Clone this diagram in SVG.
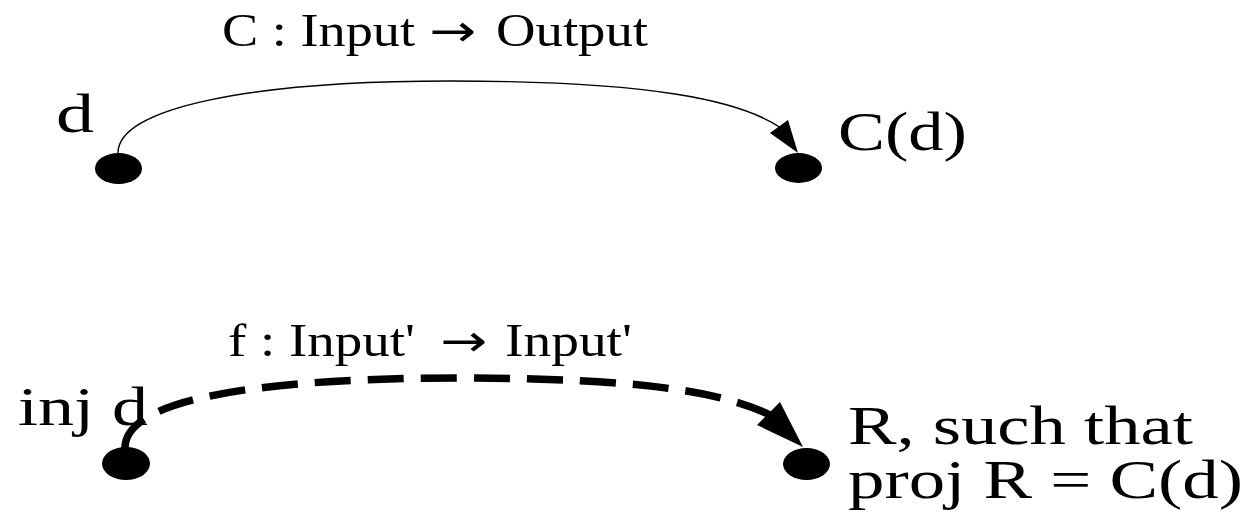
<svg xmlns="http://www.w3.org/2000/svg" width="1257" height="523" viewBox="0 0 1257 523">
  <style>
    .dot { fill: #000; }
    .lbl { font-family: "Liberation Serif", "Times New Roman", serif; fill: #000; }
    .big { font-size: 55px; }
    .small { font-size: 46px; }
    .arr { font-family: "DejaVu Sans", sans-serif; font-size: 44px; fill: #000; }
    .thin { fill: none; stroke: #000; stroke-width: 1.4; }
    .thick { fill: none; stroke: #000; stroke-width: 7.5; stroke-dasharray: 36 17; stroke-linecap: butt; }
    .head { fill: #000; stroke: none; }
  </style>

  <rect width="1257" height="523" fill="#fff"/>

  <!-- top row: C maps d to C(d) -->
  <g id="node-d">
    <ellipse class="dot" cx="118.5" cy="168.5" rx="23.5" ry="15.5"/>
    <text class="lbl big" x="56" y="132" textLength="38" lengthAdjust="spacingAndGlyphs">d</text>
  </g>
  <g id="node-Cd">
    <ellipse class="dot" cx="798.5" cy="168" rx="23.5" ry="15"/>
    <text class="lbl big" x="838" y="150" textLength="129" lengthAdjust="spacingAndGlyphs">C(d)</text>
  </g>

  <!-- bottom row: f maps inj d to R -->
  <g id="node-injd">
    <ellipse class="dot" cx="126" cy="463.5" rx="24" ry="16.5"/>
    <text class="lbl big" x="18" y="425" textLength="130" lengthAdjust="spacingAndGlyphs">inj d</text>
  </g>
  <g id="node-R">
    <ellipse class="dot" cx="806.5" cy="464" rx="23.5" ry="16"/>
    <text class="lbl big" x="848" y="444" textLength="345" lengthAdjust="spacingAndGlyphs">R, such that</text>
    <text class="lbl big" x="848" y="498" textLength="395" lengthAdjust="spacingAndGlyphs">proj R = C(d)</text>
  </g>

  <g id="connectors">
    <g id="edge-C">
      <path class="thin" d="M118,153 C118,108 250,81 450,81 C650,81 740,100 781,128"/>
      <polygon class="head" points="798,153 770,133 788,120"/>
      <text class="lbl small" x="222" y="46" textLength="193" lengthAdjust="spacingAndGlyphs">C : Input</text>
      <text class="arr" x="429" y="46" textLength="47" lengthAdjust="spacingAndGlyphs">→</text>
      <text class="lbl small" x="496" y="46" textLength="152" lengthAdjust="spacingAndGlyphs">Output</text>
    </g>
    <g id="edge-f">
      <path class="thick" d="M125,448 C125,395 280,378 460,378 C640,378 725,392 772,416"/>
      <polygon class="head" points="803,447 757,425 780,402"/>
      <text class="lbl small" x="228" y="356" textLength="187" lengthAdjust="spacingAndGlyphs">f : Input'</text>
      <text class="arr" x="440" y="356" textLength="47" lengthAdjust="spacingAndGlyphs">→</text>
      <text class="lbl small" x="505" y="356" textLength="127" lengthAdjust="spacingAndGlyphs">Input'</text>
    </g>
  </g>
</svg>
